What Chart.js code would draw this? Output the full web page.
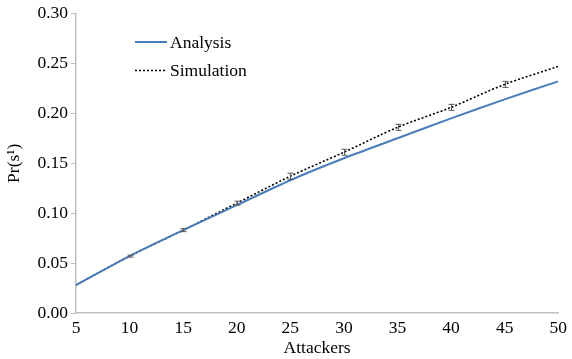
<!DOCTYPE html>
<html>
<head>
<meta charset="utf-8">
<script src="https://cdn.jsdelivr.net/npm/chart.js@4/dist/chart.umd.min.js"></script>
<style>
  html, body { margin: 0; padding: 0; background: #fff; }
  #wrap { width: 572px; height: 359px; }
</style>
</head>
<body>
<div id="wrap"><canvas id="myChart" width="572" height="359"></canvas></div>
<script>
// datos
const attackers = [5, 10, 15, 20, 25, 30, 35, 40, 45, 50];
const analysis = [0.028, 0.057, 0.083, 0.108, 0.133, 0.155, 0.175, 0.195, 0.214, 0.232];
const simulation = [0.028, 0.057, 0.083, 0.110, 0.137, 0.161, 0.186, 0.206, 0.229, 0.247];
const simError = [0, 0.001, 0.0015, 0.002, 0.003, 0.003, 0.003, 0.003, 0.003, 0];
const yTicks = [0, 0.05, 0.10, 0.15, 0.20, 0.25, 0.30];

const serif = '"Liberation Serif", "Times New Roman", serif';
const fontSize = 17.5;
const axisGrey = '#bfbfbf';

function pts(vals) {
  return attackers.map((a, i) => ({ x: a, y: vals[i] }));
}

// barras de error de la simulacion
const errorBars = {
  id: 'errorBars',
  afterDatasetsDraw(chart) {
    const ctx = chart.ctx;
    const xs = chart.scales.x, ys = chart.scales.y;
    ctx.save();
    ctx.strokeStyle = '#595959';
    ctx.lineWidth = 1;
    attackers.forEach((a, i) => {
      const e = simError[i];
      if (!e) return;
      const px = Math.round(xs.getPixelForValue(a)) + 0.5;
      const top = ys.getPixelForValue(simulation[i] + e);
      const bot = ys.getPixelForValue(simulation[i] - e);
      ctx.beginPath();
      ctx.moveTo(px, top); ctx.lineTo(px, bot);
      ctx.moveTo(px - 3, top); ctx.lineTo(px + 3, top);
      ctx.moveTo(px - 3, bot); ctx.lineTo(px + 3, bot);
      ctx.stroke();
    });
    ctx.restore();
  }
};

// leyenda dentro del area del grafico
const innerLegend = {
  id: 'innerLegend',
  afterDraw(chart) {
    const ctx = chart.ctx;
    ctx.save();
    ctx.font = fontSize + 'px ' + serif;
    ctx.textBaseline = 'middle';
    ctx.fillStyle = '#000';
    chart.data.datasets.forEach((ds, i) => {
      const y = 42 + i * 28.5;
      ctx.beginPath();
      ctx.strokeStyle = ds.borderColor;
      ctx.lineWidth = ds.borderWidth;
      ctx.setLineDash(ds.borderDash || []);
      ctx.moveTo(135, y); ctx.lineTo(167, y);
      ctx.stroke();
      ctx.setLineDash([]);
      ctx.fillText(ds.label, 170, y + 1);
    });
    ctx.restore();
  }
};

new Chart(document.getElementById('myChart').getContext('2d'), {
  type: 'line',
  data: {
    datasets: [
      {
        label: 'Analysis',
        data: pts(analysis),
        borderColor: '#4a7ebb',
        borderWidth: 2,
        pointRadius: 0,
        tension: 0.3
      },
      {
        label: 'Simulation',
        data: pts(simulation),
        borderColor: '#000000',
        borderWidth: 1.6,
        borderDash: [2, 2],
        pointRadius: 0,
        tension: 0.3
      }
    ]
  },
  options: {
    responsive: false,
    animation: false,
    layout: { padding: { top: 13, right: 9, bottom: 0, left: 0 } },
    plugins: { legend: { display: false }, tooltip: { enabled: false } },
    scales: {
      x: {
        type: 'linear',
        min: 5, max: 50,
        afterBuildTicks(s) { s.ticks = attackers.map(v => ({ value: v })); },
        afterFit(s) { s.height = 46; },
        grid: { display: true, drawOnChartArea: false, drawTicks: false, color: axisGrey },
        border: { color: axisGrey, width: 1.5 },
        ticks: { padding: 5, color: '#000', font: { family: serif, size: fontSize }, maxRotation: 0 },
        title: { display: true, text: 'Attackers', color: '#000', font: { family: serif, size: fontSize }, padding: { top: 1, bottom: 0 } }
      },
      y: {
        min: 0, max: 0.30,
        afterBuildTicks(s) { s.ticks = yTicks.map(v => ({ value: v })); },
        afterFit(s) { s.width = 76; },
        grid: { display: true, drawOnChartArea: false, tickLength: 5, color: axisGrey },
        border: { color: axisGrey, width: 1.5 },
        ticks: { padding: 3, color: '#000', font: { family: serif, size: fontSize }, callback: v => v.toFixed(2) },
        title: { display: true, text: 'Pr(s¹)', color: '#000', font: { family: serif, size: fontSize }, padding: { top: 4, bottom: 0 } }
      }
    }
  },
  plugins: [errorBars, innerLegend]
});
</script>
</body>
</html>
